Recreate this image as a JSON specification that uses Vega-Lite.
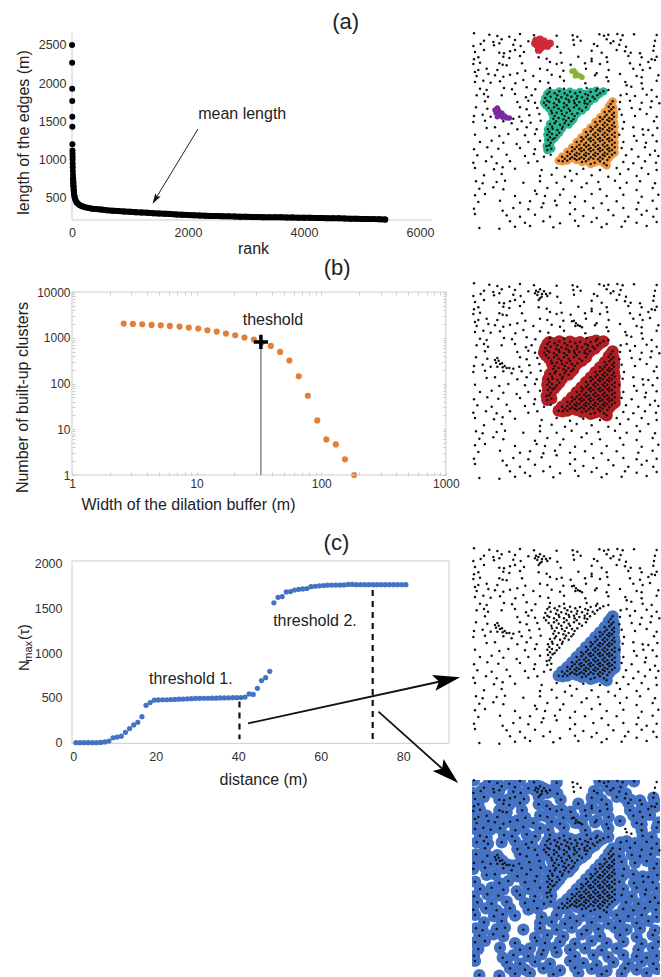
{"$schema":"https://vega.github.io/schema/vega-lite/v6.json","background":"white","autosize":{"type":"none"},"padding":{"left":72,"top":33,"right":589,"bottom":944},
"config":{"font":"Liberation Sans","view":{"stroke":null},"axis":{"grid":false,"ticks":false,"domain":false,"format":"d","labelFlush":false,"labelFont":"Liberation Sans","titleFont":"Liberation Sans","labelFontSize":12.5,"labelColor":"#333","titleColor":"#222","titleFontSize":16,"titleFontWeight":"normal","labelOverlap":false,"labelBound":false}},
"datasets":{
"edges":[{"r":1,"v":2500},{"r":2,"v":2268},{"r":3,"v":1928},{"r":4,"v":1767},{"r":5,"v":1562},{"r":6,"v":1431},{"r":7,"v":1200},{"r":8,"v":1120},{"r":9,"v":1080},{"r":10,"v":1040},{"r":11,"v":1000},{"r":12,"v":950},{"r":13,"v":900},{"r":15,"v":850},{"r":17,"v":800},{"r":19,"v":750},{"r":22,"v":700},{"r":25,"v":650},{"r":30,"v":600},{"r":36,"v":550},{"r":45,"v":510},{"r":60,"v":470},{"r":80,"v":440},{"r":100,"v":425},{"r":130,"v":405},{"r":170,"v":390},{"r":220,"v":378},{"r":280,"v":368},{"r":350,"v":358},{"r":420,"v":352},{"r":500,"v":346},{"r":600,"v":338},{"r":700,"v":332},{"r":800,"v":326},{"r":900,"v":321},{"r":1000,"v":316},{"r":1100,"v":311},{"r":1200,"v":307},{"r":1300,"v":303},{"r":1400,"v":299},{"r":1500,"v":295},{"r":1600,"v":291},{"r":1700,"v":287},{"r":1800,"v":283},{"r":1900,"v":279},{"r":2000,"v":275},{"r":2100,"v":272},{"r":2200,"v":269},{"r":2300,"v":266},{"r":2400,"v":263},{"r":2500,"v":261},{"r":2600,"v":259},{"r":2700,"v":257},{"r":2800,"v":255},{"r":2900,"v":253},{"r":3000,"v":252},{"r":3100,"v":250},{"r":3200,"v":249},{"r":3300,"v":247},{"r":3400,"v":246},{"r":3500,"v":245},{"r":3600,"v":244},{"r":3700,"v":243},{"r":3800,"v":241},{"r":3900,"v":240},{"r":4000,"v":239},{"r":4100,"v":238},{"r":4200,"v":236},{"r":4300,"v":235},{"r":4400,"v":234},{"r":4500,"v":232},{"r":4600,"v":231},{"r":4700,"v":229},{"r":4800,"v":227},{"r":4900,"v":226},{"r":5000,"v":224},{"r":5100,"v":223},{"r":5200,"v":221},{"r":5300,"v":220},{"r":5400,"v":216}],
"clusters":[{"w":2.6,"n":2037},{"w":3.08,"n":2004},{"w":3.66,"n":1971},{"w":4.35,"n":1906},{"w":5.16,"n":1874},{"w":6.1,"n":1812},{"w":7.3,"n":1752},{"w":8.65,"n":1666},{"w":10.3,"n":1585},{"w":12.2,"n":1458},{"w":14.5,"n":1363},{"w":17.2,"n":1233},{"w":20.4,"n":1134},{"w":24.2,"n":1009},{"w":28.8,"n":912},{"w":33.3,"n":785},{"w":39.4,"n":664},{"w":46.8,"n":491},{"w":55.5,"n":317},{"w":66,"n":144},{"w":78,"n":54},{"w":93,"n":15.6},{"w":110,"n":6},{"w":131,"n":4.67},{"w":155,"n":2.2},{"w":184,"n":1}],
"nmax":[{"d":0.65,"n":0},{"d":1.65,"n":0},{"d":2.65,"n":0},{"d":3.65,"n":0},{"d":4.65,"n":0},{"d":5.65,"n":0},{"d":6.65,"n":3},{"d":7.65,"n":8},{"d":8.65,"n":18},{"d":9.65,"n":55},{"d":10.65,"n":62},{"d":11.65,"n":72},{"d":12.65,"n":115},{"d":13.65,"n":157},{"d":14.65,"n":198},{"d":15.65,"n":228},{"d":16.65,"n":291},{"d":17.65,"n":418},{"d":18.65,"n":448},{"d":19.65,"n":475},{"d":20.65,"n":478},{"d":21.65,"n":480},{"d":22.65,"n":480},{"d":23.65,"n":482},{"d":24.65,"n":484},{"d":25.65,"n":486},{"d":26.65,"n":488},{"d":27.65,"n":490},{"d":28.65,"n":492},{"d":29.65,"n":495},{"d":30.65,"n":496},{"d":31.65,"n":497},{"d":32.65,"n":497},{"d":33.65,"n":498},{"d":34.65,"n":498},{"d":35.65,"n":500},{"d":36.65,"n":500},{"d":37.65,"n":502},{"d":38.65,"n":503},{"d":39.65,"n":503},{"d":40.65,"n":505},{"d":41.65,"n":510},{"d":42.65,"n":545},{"d":43.65,"n":540},{"d":44.65,"n":608},{"d":45.65,"n":694},{"d":46.65,"n":727},{"d":47.65,"n":798},{"d":48.65,"n":1565},{"d":49.65,"n":1626},{"d":50.65,"n":1634},{"d":51.65,"n":1686},{"d":52.65,"n":1690},{"d":53.65,"n":1708},{"d":54.65,"n":1716},{"d":55.65,"n":1720},{"d":56.65,"n":1725},{"d":57.65,"n":1745},{"d":58.65,"n":1750},{"d":59.65,"n":1755},{"d":60.65,"n":1758},{"d":61.65,"n":1762},{"d":62.65,"n":1763},{"d":63.65,"n":1763},{"d":64.65,"n":1763},{"d":65.65,"n":1765},{"d":66.65,"n":1770},{"d":67.65,"n":1770},{"d":68.65,"n":1768},{"d":69.65,"n":1768},{"d":70.65,"n":1768},{"d":71.65,"n":1768},{"d":72.65,"n":1768},{"d":73.65,"n":1768},{"d":74.65,"n":1768},{"d":75.65,"n":1768},{"d":76.65,"n":1768},{"d":77.65,"n":1768},{"d":78.65,"n":1768},{"d":79.65,"n":1768},{"d":80.65,"n":1768}],
"pts":[
{"x":42,"y":40,"g":"b"},{"x":88,"y":44,"g":"b"},{"x":112,"y":48,"g":"b"},{"x":148,"y":50,"g":"b"},{"x":180,"y":42,"g":"b"},{"x":222,"y":46,"g":"b"},{"x":290,"y":47,"g":"b"},{"x":338,"y":46,"g":"i"},{"x":352,"y":50,"g":"i"},{"x":418,"y":43,"g":"b"},{"x":432,"y":47,"g":"b"},{"x":445,"y":44,"g":"b"},{"x":472,"y":42,"g":"b"},{"x":488,"y":46,"g":"b"},{"x":522,"y":43,"g":"b"},{"x":590,"y":45,"g":"i"},
{"x":72,"y":62,"g":"b"},{"x":100,"y":66,"g":"b"},{"x":125,"y":58,"g":"b"},{"x":165,"y":60,"g":"b"},{"x":205,"y":64,"g":"b"},{"x":340,"y":60,"g":"i"},{"x":362,"y":62,"g":"i"},{"x":440,"y":58,"g":"b"},{"x":460,"y":64,"g":"b"},{"x":482,"y":60,"g":"b"},{"x":585,"y":62,"g":"i"},
{"x":40,"y":78,"g":"b"},{"x":62,"y":72,"g":"b"},{"x":102,"y":76,"g":"b"},{"x":118,"y":70,"g":"b"},{"x":160,"y":74,"g":"b"},{"x":182,"y":78,"g":"b"},{"x":292,"y":80,"g":"b"},{"x":342,"y":74,"g":"i"},{"x":402,"y":72,"g":"b"},{"x":412,"y":78,"g":"b"},{"x":452,"y":70,"g":"b"},{"x":478,"y":74,"g":"b"},{"x":498,"y":80,"g":"b"},{"x":582,"y":78,"g":"i"},
{"x":45,"y":96,"g":"b"},{"x":72,"y":90,"g":"b"},{"x":118,"y":98,"g":"b"},{"x":132,"y":100,"g":"b"},{"x":150,"y":94,"g":"b"},{"x":165,"y":90,"g":"b"},{"x":192,"y":96,"g":"b"},{"x":302,"y":98,"g":"b"},{"x":395,"y":92,"g":"b"},{"x":425,"y":98,"g":"b"},{"x":470,"y":90,"g":"b"},{"x":495,"y":94,"g":"b"},{"x":512,"y":98,"g":"b"},{"x":540,"y":100,"g":"b"},{"x":580,"y":92,"g":"b"},
{"x":55,"y":112,"g":"b"},{"x":42,"y":118,"g":"b"},{"x":130,"y":110,"g":"b"},{"x":148,"y":114,"g":"b"},{"x":180,"y":108,"g":"b"},{"x":236,"y":112,"g":"b"},{"x":260,"y":116,"g":"b"},{"x":355,"y":110,"g":"b"},{"x":395,"y":116,"g":"b"},{"x":440,"y":112,"g":"b"},{"x":505,"y":108,"g":"b"},{"x":545,"y":112,"g":"b"},{"x":575,"y":118,"g":"b"},{"x":590,"y":110,"g":"b"},
{"x":40,"y":132,"g":"b"},{"x":60,"y":128,"g":"b"},{"x":118,"y":130,"g":"b"},{"x":128,"y":134,"g":"b"},{"x":140,"y":136,"g":"b"},{"x":186,"y":130,"g":"b"},{"x":270,"y":126,"g":"b"},{"x":290,"y":132,"g":"b"},{"x":305,"y":128,"g":"b"},{"x":332,"y":134,"g":"b"},{"x":375,"y":130,"g":"b"},{"x":395,"y":124,"g":"b"},{"x":420,"y":132,"g":"b"},{"x":442,"y":126,"g":"b"},{"x":510,"y":130,"g":"b"},{"x":540,"y":134,"g":"b"},{"x":565,"y":126,"g":"b"},{"x":585,"y":120,"g":"b"},
{"x":55,"y":150,"g":"b"},{"x":45,"y":156,"g":"b"},{"x":80,"y":146,"g":"b"},{"x":112,"y":150,"g":"b"},{"x":196,"y":152,"g":"b"},{"x":240,"y":146,"g":"b"},{"x":262,"y":150,"g":"b"},{"x":310,"y":152,"g":"b"},{"x":378,"y":146,"g":"b"},{"x":410,"y":160,"g":"b"},{"x":446,"y":150,"g":"b"},{"x":520,"y":146,"g":"b"},{"x":548,"y":150,"g":"b"},{"x":570,"y":144,"g":"b"},
{"x":50,"y":168,"g":"b"},{"x":85,"y":162,"g":"b"},{"x":105,"y":166,"g":"b"},{"x":130,"y":170,"g":"b"},{"x":150,"y":164,"g":"b"},{"x":172,"y":160,"g":"b"},{"x":220,"y":168,"g":"b"},{"x":275,"y":164,"g":"b"},{"x":300,"y":170,"g":"b"},{"x":405,"y":166,"g":"b"},{"x":440,"y":172,"g":"b"},{"x":480,"y":162,"g":"b"},{"x":530,"y":168,"g":"b"},{"x":545,"y":172,"g":"b"},{"x":595,"y":166,"g":"b"},
{"x":45,"y":186,"g":"b"},{"x":70,"y":182,"g":"b"},{"x":92,"y":188,"g":"b"},{"x":120,"y":184,"g":"b"},{"x":166,"y":190,"g":"b"},{"x":190,"y":180,"g":"b"},{"x":240,"y":184,"g":"b"},{"x":265,"y":188,"g":"b"},{"x":312,"y":182,"g":"b"},{"x":376,"y":190,"g":"b"},{"x":445,"y":184,"g":"b"},{"x":496,"y":186,"g":"i"},{"x":500,"y":196,"g":"i"},{"x":545,"y":190,"g":"b"},{"x":590,"y":182,"g":"b"},
{"x":60,"y":206,"g":"b"},{"x":80,"y":210,"g":"b"},{"x":132,"y":204,"g":"b"},{"x":156,"y":208,"g":"b"},{"x":200,"y":202,"g":"b"},{"x":226,"y":208,"g":"b"},{"x":270,"y":204,"g":"b"},{"x":312,"y":206,"g":"b"},{"x":380,"y":204,"g":"b"},{"x":412,"y":206,"g":"b"},{"x":445,"y":210,"g":"b"},{"x":514,"y":200,"g":"i"},{"x":548,"y":206,"g":"b"},{"x":575,"y":210,"g":"b"},
{"x":50,"y":226,"g":"b"},{"x":72,"y":222,"g":"b"},{"x":84,"y":230,"g":"b"},{"x":125,"y":226,"g":"b"},{"x":165,"y":222,"g":"b"},{"x":198,"y":232,"g":"b"},{"x":215,"y":226,"g":"b"},{"x":482,"y":226,"g":"b"},{"x":500,"y":222,"g":"b"},{"x":525,"y":228,"g":"b"},{"x":560,"y":224,"g":"b"},{"x":590,"y":230,"g":"b"},
{"x":75,"y":244,"g":"b"},{"x":48,"y":262,"g":"b"},{"x":172,"y":246,"g":"b"},{"x":205,"y":242,"g":"b"},{"x":225,"y":248,"g":"b"},{"x":480,"y":246,"g":"b"},{"x":510,"y":242,"g":"b"},{"x":545,"y":248,"g":"b"},{"x":575,"y":244,"g":"b"},{"x":598,"y":250,"g":"b"},
{"x":82,"y":266,"g":"b"},{"x":180,"y":262,"g":"b"},{"x":200,"y":268,"g":"b"},{"x":232,"y":264,"g":"b"},{"x":478,"y":268,"g":"b"},{"x":515,"y":264,"g":"b"},{"x":540,"y":268,"g":"b"},{"x":572,"y":262,"g":"b"},
{"x":42,"y":288,"g":"b"},{"x":68,"y":284,"g":"b"},{"x":92,"y":290,"g":"b"},{"x":160,"y":296,"g":"b"},{"x":178,"y":290,"g":"b"},{"x":208,"y":286,"g":"b"},{"x":238,"y":282,"g":"b"},{"x":485,"y":284,"g":"b"},{"x":525,"y":288,"g":"b"},{"x":560,"y":282,"g":"b"},{"x":590,"y":290,"g":"b"},
{"x":40,"y":306,"g":"b"},{"x":75,"y":302,"g":"b"},{"x":105,"y":322,"g":"b"},{"x":130,"y":304,"g":"b"},{"x":155,"y":310,"g":"b"},{"x":185,"y":304,"g":"b"},{"x":212,"y":308,"g":"b"},{"x":242,"y":302,"g":"b"},{"x":492,"y":306,"g":"b"},{"x":520,"y":322,"g":"b"},{"x":548,"y":328,"g":"b"},{"x":582,"y":304,"g":"b"},
{"x":80,"y":324,"g":"b"},{"x":172,"y":328,"g":"b"},{"x":200,"y":322,"g":"b"},{"x":230,"y":328,"g":"b"},{"x":488,"y":326,"g":"b"},{"x":565,"y":330,"g":"b"},{"x":592,"y":324,"g":"b"},
{"x":45,"y":344,"g":"b"},{"x":118,"y":348,"g":"b"},{"x":145,"y":342,"g":"b"},{"x":195,"y":346,"g":"b"},{"x":225,"y":342,"g":"b"},{"x":478,"y":344,"g":"b"},{"x":522,"y":348,"g":"b"},{"x":550,"y":344,"g":"b"},{"x":578,"y":346,"g":"b"},
{"x":60,"y":366,"g":"b"},{"x":95,"y":362,"g":"b"},{"x":130,"y":368,"g":"b"},{"x":170,"y":372,"g":"b"},{"x":205,"y":366,"g":"b"},{"x":240,"y":362,"g":"b"},{"x":490,"y":366,"g":"b"},{"x":530,"y":362,"g":"b"},{"x":558,"y":368,"g":"b"},{"x":590,"y":364,"g":"b"},
{"x":42,"y":388,"g":"b"},{"x":82,"y":382,"g":"b"},{"x":115,"y":386,"g":"b"},{"x":180,"y":384,"g":"b"},{"x":225,"y":388,"g":"b"},{"x":485,"y":384,"g":"b"},{"x":515,"y":388,"g":"b"},{"x":555,"y":382,"g":"b"},{"x":585,"y":392,"g":"b"},
{"x":52,"y":406,"g":"b"},{"x":95,"y":410,"g":"b"},{"x":140,"y":404,"g":"b"},{"x":195,"y":408,"g":"b"},{"x":222,"y":402,"g":"b"},{"x":252,"y":410,"g":"b"},{"x":272,"y":404,"g":"b"},{"x":498,"y":406,"g":"b"},{"x":535,"y":410,"g":"b"},{"x":570,"y":404,"g":"b"},{"x":595,"y":408,"g":"b"},
{"x":40,"y":428,"g":"b"},{"x":78,"y":424,"g":"b"},{"x":110,"y":430,"g":"b"},{"x":150,"y":424,"g":"b"},{"x":205,"y":428,"g":"b"},{"x":232,"y":424,"g":"b"},{"x":490,"y":426,"g":"b"},{"x":520,"y":430,"g":"b"},{"x":555,"y":424,"g":"b"},{"x":588,"y":428,"g":"b"},
{"x":45,"y":444,"g":"b"},{"x":102,"y":448,"g":"b"},{"x":128,"y":442,"g":"b"},{"x":165,"y":446,"g":"b"},{"x":245,"y":450,"g":"b"},{"x":290,"y":444,"g":"b"},{"x":330,"y":452,"g":"b"},{"x":370,"y":446,"g":"b"},{"x":420,"y":450,"g":"b"},{"x":470,"y":444,"g":"b"},{"x":505,"y":448,"g":"b"},{"x":545,"y":444,"g":"b"},{"x":590,"y":450,"g":"b"},
{"x":72,"y":466,"g":"b"},{"x":125,"y":462,"g":"b"},{"x":240,"y":468,"g":"b"},{"x":275,"y":464,"g":"b"},{"x":315,"y":470,"g":"b"},{"x":350,"y":462,"g":"b"},{"x":395,"y":466,"g":"b"},{"x":445,"y":470,"g":"b"},{"x":480,"y":462,"g":"b"},{"x":530,"y":468,"g":"b"},{"x":565,"y":462,"g":"b"},
{"x":48,"y":484,"g":"b"},{"x":68,"y":490,"g":"b"},{"x":110,"y":486,"g":"b"},{"x":135,"y":482,"g":"b"},{"x":190,"y":488,"g":"b"},{"x":240,"y":484,"g":"b"},{"x":290,"y":488,"g":"b"},{"x":335,"y":482,"g":"b"},{"x":380,"y":490,"g":"b"},{"x":415,"y":486,"g":"b"},{"x":465,"y":482,"g":"b"},{"x":500,"y":488,"g":"b"},{"x":540,"y":484,"g":"b"},{"x":585,"y":490,"g":"b"},
{"x":58,"y":506,"g":"b"},{"x":100,"y":502,"g":"b"},{"x":130,"y":508,"g":"b"},{"x":225,"y":512,"g":"b"},{"x":262,"y":504,"g":"b"},{"x":310,"y":508,"g":"b"},{"x":365,"y":502,"g":"b"},{"x":420,"y":508,"g":"b"},{"x":480,"y":504,"g":"b"},{"x":530,"y":510,"g":"b"},{"x":578,"y":504,"g":"b"},
{"x":45,"y":526,"g":"b"},{"x":75,"y":522,"g":"b"},{"x":165,"y":528,"g":"b"},{"x":230,"y":522,"g":"b"},{"x":255,"y":528,"g":"b"},{"x":300,"y":524,"g":"b"},{"x":345,"y":530,"g":"b"},{"x":395,"y":522,"g":"b"},{"x":440,"y":528,"g":"b"},{"x":490,"y":524,"g":"b"},{"x":545,"y":530,"g":"b"},{"x":595,"y":524,"g":"b"},
{"x":55,"y":546,"g":"b"},{"x":120,"y":542,"g":"b"},{"x":180,"y":548,"g":"b"},{"x":210,"y":544,"g":"b"},{"x":250,"y":550,"g":"b"},{"x":285,"y":542,"g":"b"},{"x":330,"y":548,"g":"b"},{"x":375,"y":544,"g":"b"},{"x":425,"y":550,"g":"b"},{"x":470,"y":544,"g":"b"},{"x":535,"y":548,"g":"b"},{"x":578,"y":542,"g":"b"},
{"x":42,"y":566,"g":"b"},{"x":128,"y":572,"g":"b"},{"x":160,"y":564,"g":"b"},{"x":205,"y":568,"g":"b"},{"x":245,"y":562,"g":"b"},{"x":290,"y":556,"g":"b"},{"x":345,"y":568,"g":"b"},{"x":400,"y":564,"g":"b"},{"x":445,"y":570,"g":"b"},{"x":490,"y":564,"g":"b"},{"x":530,"y":568,"g":"b"},{"x":560,"y":572,"g":"b"},{"x":590,"y":566,"g":"b"},
{"x":45,"y":582,"g":"b"},{"x":140,"y":586,"g":"b"},{"x":180,"y":590,"g":"b"},{"x":225,"y":584,"g":"b"},{"x":270,"y":590,"g":"b"},{"x":330,"y":582,"g":"b"},{"x":370,"y":588,"g":"b"},{"x":410,"y":594,"g":"b"},{"x":460,"y":586,"g":"b"},{"x":505,"y":590,"g":"b"},{"x":545,"y":584,"g":"b"},{"x":580,"y":590,"g":"b"},
{"x":150,"y":604,"g":"b"},{"x":195,"y":608,"g":"b"},{"x":250,"y":604,"g":"b"},{"x":300,"y":610,"g":"b"},{"x":345,"y":602,"g":"b"},{"x":395,"y":606,"g":"b"},{"x":440,"y":612,"g":"b"},{"x":495,"y":604,"g":"b"},{"x":530,"y":608,"g":"b"},{"x":560,"y":618,"g":"b"},{"x":590,"y":606,"g":"b"},
{"x":58,"y":624,"g":"b"},{"x":118,"y":626,"g":"b"},{"x":165,"y":620,"g":"b"},{"x":210,"y":618,"g":"b"},{"x":280,"y":622,"g":"b"},{"x":355,"y":618,"g":"b"},{"x":425,"y":622,"g":"b"},{"x":485,"y":620,"g":"b"},
{"x":228,"y":62,"g":"r"},{"x":240,"y":58,"g":"r"},{"x":232,"y":75,"g":"r"},{"x":246,"y":72,"g":"r"},{"x":240,"y":85,"g":"r"},{"x":258,"y":72,"g":"r"},{"x":270,"y":70,"g":"r"},{"x":225,"y":70,"g":"r"},{"x":235,"y":66,"g":"r"},{"x":252,"y":64,"g":"r"},{"x":262,"y":78,"g":"r"},{"x":245,"y":80,"g":"r"},{"x":236,"y":90,"g":"r"},
{"x":336,"y":154,"g":"y"},{"x":348,"y":160,"g":"y"},{"x":360,"y":168,"g":"y"},{"x":342,"y":152,"g":"y"},{"x":354,"y":166,"g":"y"},{"x":346,"y":168,"g":"y"},{"x":366,"y":172,"g":"y"},
{"x":112,"y":264,"g":"p"},{"x":108,"y":278,"g":"p"},{"x":120,"y":282,"g":"p"},{"x":134,"y":288,"g":"p"},{"x":148,"y":294,"g":"p"},{"x":105,"y":270,"g":"p"},{"x":116,"y":272,"g":"p"},{"x":126,"y":280,"g":"p"},{"x":112,"y":290,"g":"p"},{"x":128,"y":292,"g":"p"},{"x":140,"y":294,"g":"p"},
{"x":268,"y":216,"g":"g"},{"x":284,"y":220,"g":"g"},{"x":298,"y":214,"g":"g"},{"x":314,"y":220,"g":"g"},{"x":330,"y":215,"g":"g"},{"x":346,"y":220,"g":"g"},{"x":360,"y":216,"g":"g"},{"x":376,"y":222,"g":"g"},{"x":392,"y":216,"g":"g"},{"x":408,"y":212,"g":"g"},{"x":430,"y":214,"g":"g"},
{"x":256,"y":234,"g":"g"},{"x":272,"y":230,"g":"g"},{"x":288,"y":236,"g":"g"},{"x":304,"y":232,"g":"g"},{"x":318,"y":236,"g":"g"},{"x":334,"y":230,"g":"g"},{"x":350,"y":236,"g":"g"},{"x":366,"y":232,"g":"g"},{"x":382,"y":236,"g":"g"},{"x":398,"y":230,"g":"g"},{"x":412,"y":226,"g":"g"},
{"x":252,"y":248,"g":"g"},{"x":268,"y":246,"g":"g"},{"x":282,"y":250,"g":"g"},{"x":298,"y":246,"g":"g"},{"x":312,"y":250,"g":"g"},{"x":328,"y":246,"g":"g"},{"x":344,"y":250,"g":"g"},{"x":358,"y":246,"g":"g"},{"x":374,"y":250,"g":"g"},{"x":390,"y":244,"g":"g"},
{"x":266,"y":264,"g":"g"},{"x":282,"y":262,"g":"g"},{"x":296,"y":266,"g":"g"},{"x":312,"y":262,"g":"g"},{"x":326,"y":266,"g":"g"},{"x":342,"y":262,"g":"g"},{"x":358,"y":266,"g":"g"},{"x":378,"y":262,"g":"g"},
{"x":276,"y":280,"g":"g"},{"x":290,"y":278,"g":"g"},{"x":306,"y":282,"g":"g"},{"x":320,"y":278,"g":"g"},{"x":336,"y":282,"g":"g"},{"x":352,"y":280,"g":"g"},
{"x":280,"y":296,"g":"g"},{"x":296,"y":294,"g":"g"},{"x":310,"y":298,"g":"g"},{"x":326,"y":294,"g":"g"},{"x":340,"y":298,"g":"g"},
{"x":270,"y":312,"g":"g"},{"x":284,"y":310,"g":"g"},{"x":300,"y":314,"g":"g"},{"x":314,"y":310,"g":"g"},{"x":326,"y":314,"g":"g"},
{"x":264,"y":328,"g":"g"},{"x":278,"y":326,"g":"g"},{"x":292,"y":330,"g":"g"},{"x":306,"y":326,"g":"g"},
{"x":262,"y":344,"g":"g"},{"x":276,"y":342,"g":"g"},{"x":290,"y":346,"g":"g"},
{"x":264,"y":360,"g":"g"},{"x":278,"y":358,"g":"g"},
{"x":268,"y":376,"g":"g"},{"x":262,"y":390,"g":"g"},
{"x":262,"y":222,"g":"g"},{"x":292,"y":226,"g":"g"},{"x":322,"y":226,"g":"g"},{"x":352,"y":228,"g":"g"},{"x":384,"y":226,"g":"g"},{"x":420,"y":220,"g":"g"},{"x":262,"y":242,"g":"g"},{"x":296,"y":240,"g":"g"},{"x":326,"y":240,"g":"g"},{"x":342,"y":242,"g":"g"},{"x":374,"y":242,"g":"g"},{"x":404,"y":236,"g":"g"},{"x":258,"y":256,"g":"g"},{"x":290,"y":256,"g":"g"},{"x":320,"y":256,"g":"g"},{"x":350,"y":256,"g":"g"},{"x":382,"y":252,"g":"g"},{"x":274,"y":272,"g":"g"},{"x":304,"y":272,"g":"g"},{"x":330,"y":272,"g":"g"},{"x":366,"y":272,"g":"g"},{"x":284,"y":288,"g":"g"},{"x":314,"y":288,"g":"g"},{"x":344,"y":288,"g":"g"},{"x":288,"y":304,"g":"g"},{"x":318,"y":302,"g":"g"},{"x":334,"y":304,"g":"g"},{"x":276,"y":320,"g":"g"},{"x":308,"y":320,"g":"g"},{"x":268,"y":336,"g":"g"},{"x":298,"y":338,"g":"g"},{"x":270,"y":352,"g":"g"},{"x":284,"y":354,"g":"g"},{"x":272,"y":368,"g":"g"},{"x":260,"y":378,"g":"g"},{"x":274,"y":386,"g":"g"},
{"x":458,"y":244,"g":"o"},{"x":446,"y":260,"g":"o"},{"x":460,"y":262,"g":"o"},{"x":434,"y":276,"g":"o"},{"x":448,"y":274,"g":"o"},{"x":462,"y":278,"g":"o"},
{"x":420,"y":292,"g":"o"},{"x":434,"y":290,"g":"o"},{"x":448,"y":294,"g":"o"},{"x":462,"y":290,"g":"o"},
{"x":406,"y":306,"g":"o"},{"x":420,"y":304,"g":"o"},{"x":434,"y":308,"g":"o"},{"x":448,"y":304,"g":"o"},{"x":462,"y":308,"g":"o"},
{"x":392,"y":322,"g":"o"},{"x":406,"y":320,"g":"o"},{"x":420,"y":324,"g":"o"},{"x":434,"y":320,"g":"o"},{"x":448,"y":324,"g":"o"},{"x":464,"y":320,"g":"o"},
{"x":378,"y":336,"g":"o"},{"x":392,"y":334,"g":"o"},{"x":406,"y":338,"g":"o"},{"x":420,"y":334,"g":"o"},{"x":434,"y":338,"g":"o"},{"x":448,"y":334,"g":"o"},{"x":464,"y":338,"g":"o"},
{"x":364,"y":352,"g":"o"},{"x":378,"y":350,"g":"o"},{"x":392,"y":354,"g":"o"},{"x":406,"y":350,"g":"o"},{"x":420,"y":354,"g":"o"},{"x":434,"y":350,"g":"o"},{"x":448,"y":354,"g":"o"},{"x":464,"y":350,"g":"o"},
{"x":350,"y":366,"g":"o"},{"x":364,"y":364,"g":"o"},{"x":378,"y":368,"g":"o"},{"x":392,"y":364,"g":"o"},{"x":406,"y":368,"g":"o"},{"x":420,"y":364,"g":"o"},{"x":434,"y":368,"g":"o"},{"x":448,"y":364,"g":"o"},{"x":464,"y":368,"g":"o"},
{"x":336,"y":382,"g":"o"},{"x":350,"y":380,"g":"o"},{"x":364,"y":384,"g":"o"},{"x":378,"y":380,"g":"o"},{"x":392,"y":384,"g":"o"},{"x":406,"y":380,"g":"o"},{"x":420,"y":384,"g":"o"},{"x":434,"y":380,"g":"o"},{"x":448,"y":384,"g":"o"},{"x":464,"y":382,"g":"o"},
{"x":322,"y":396,"g":"o"},{"x":336,"y":394,"g":"o"},{"x":350,"y":398,"g":"o"},{"x":364,"y":394,"g":"o"},{"x":378,"y":398,"g":"o"},{"x":392,"y":394,"g":"o"},{"x":406,"y":398,"g":"o"},{"x":420,"y":394,"g":"o"},{"x":434,"y":398,"g":"o"},{"x":448,"y":394,"g":"o"},{"x":464,"y":398,"g":"o"},
{"x":306,"y":410,"g":"o"},{"x":322,"y":408,"g":"o"},{"x":336,"y":412,"g":"o"},{"x":350,"y":408,"g":"o"},{"x":364,"y":412,"g":"o"},{"x":378,"y":408,"g":"o"},{"x":392,"y":412,"g":"o"},{"x":406,"y":408,"g":"o"},{"x":420,"y":412,"g":"o"},{"x":434,"y":408,"g":"o"},{"x":448,"y":412,"g":"o"},
{"x":296,"y":422,"g":"o"},{"x":322,"y":422,"g":"o"},{"x":350,"y":420,"g":"o"},{"x":378,"y":424,"g":"o"},{"x":392,"y":432,"g":"o"},{"x":420,"y":424,"g":"o"},{"x":440,"y":436,"g":"o"},
{"x":452,"y":252,"g":"o"},{"x":454,"y":268,"g":"o"},{"x":440,"y":284,"g":"o"},{"x":456,"y":284,"g":"o"},{"x":428,"y":298,"g":"o"},{"x":442,"y":300,"g":"o"},{"x":456,"y":298,"g":"o"},{"x":412,"y":314,"g":"o"},{"x":428,"y":314,"g":"o"},{"x":442,"y":314,"g":"o"},{"x":456,"y":316,"g":"o"},{"x":398,"y":328,"g":"o"},{"x":414,"y":330,"g":"o"},{"x":428,"y":328,"g":"o"},{"x":442,"y":330,"g":"o"},{"x":456,"y":328,"g":"o"},{"x":384,"y":344,"g":"o"},{"x":400,"y":344,"g":"o"},{"x":414,"y":344,"g":"o"},{"x":428,"y":344,"g":"o"},{"x":442,"y":344,"g":"o"},{"x":456,"y":344,"g":"o"},{"x":370,"y":358,"g":"o"},{"x":386,"y":358,"g":"o"},{"x":400,"y":360,"g":"o"},{"x":414,"y":358,"g":"o"},{"x":428,"y":360,"g":"o"},{"x":442,"y":358,"g":"o"},{"x":456,"y":360,"g":"o"},{"x":358,"y":374,"g":"o"},{"x":372,"y":374,"g":"o"},{"x":386,"y":376,"g":"o"},{"x":400,"y":374,"g":"o"},{"x":414,"y":376,"g":"o"},{"x":428,"y":374,"g":"o"},{"x":442,"y":376,"g":"o"},{"x":456,"y":374,"g":"o"},{"x":344,"y":388,"g":"o"},{"x":358,"y":388,"g":"o"},{"x":372,"y":390,"g":"o"},{"x":386,"y":388,"g":"o"},{"x":400,"y":390,"g":"o"},{"x":414,"y":388,"g":"o"},{"x":428,"y":390,"g":"o"},{"x":442,"y":388,"g":"o"},{"x":456,"y":390,"g":"o"},{"x":330,"y":402,"g":"o"},{"x":344,"y":404,"g":"o"},{"x":358,"y":402,"g":"o"},{"x":372,"y":404,"g":"o"},{"x":386,"y":402,"g":"o"},{"x":400,"y":404,"g":"o"},{"x":414,"y":402,"g":"o"},{"x":428,"y":404,"g":"o"},{"x":442,"y":402,"g":"o"},{"x":456,"y":404,"g":"o"},{"x":314,"y":416,"g":"o"},{"x":330,"y":416,"g":"o"},{"x":344,"y":416,"g":"o"},{"x":358,"y":416,"g":"o"},{"x":372,"y":416,"g":"o"},{"x":386,"y":418,"g":"o"},{"x":400,"y":416,"g":"o"},{"x":414,"y":418,"g":"o"},{"x":428,"y":416,"g":"o"},{"x":442,"y":420,"g":"o"},{"x":308,"y":424,"g":"o"},{"x":366,"y":426,"g":"o"},{"x":404,"y":428,"g":"o"},{"x":432,"y":430,"g":"o"}
]},
"columns":2,"bounds":"flush","align":"each","spacing":{"row":0,"column":23},
"concat":[
{"width":377,"height":250,"layer":[
{"data":{"values":[{"r":0,"v":209},{"r":6207,"v":209}]},"mark":{"type":"line","color":"#ccc","strokeWidth":1},"encoding":{"x":{"field":"r","type":"quantitative","scale":{"domain":[0,6500],"nice":false},"axis":{"values":[0,2000,4000,6000],"title":"rank","offset":-63,"titleX":181,"titleY":28,"titleBaseline":"middle","titleAlign":"center","labelPadding":6,"encoding":{"labels":{"update":{"dx":{"signal":"datum.value==2000?-10:(datum.value==4000?-4:0)"}}}}}},"y":{"field":"v","type":"quantitative","scale":{"domain":[-615,2657],"nice":false,"zero":false},"axis":{"values":[500,1000,1500,2000,2500],"title":"length of the edges (m)","titleX":-49,"titleY":99,"titleBaseline":"middle","titleAlign":"center","labelPadding":6}}}},
{"data":{"values":[{"r":0,"v":209},{"r":0,"v":2657}]},"mark":{"type":"line","color":"#ccc","strokeWidth":1},"encoding":{"x":{"field":"r","type":"quantitative"},"y":{"field":"v","type":"quantitative"}}},
{"data":{"name":"edges"},"mark":{"type":"circle","color":"black","size":36,"opacity":1},"encoding":{"x":{"field":"r","type":"quantitative"},"y":{"field":"v","type":"quantitative"}}},
{"data":{"name":"edges"},"transform":[{"filter":"datum.r>=19"}],"mark":{"type":"line","color":"black","strokeWidth":6,"strokeCap":"round"},"encoding":{"x":{"field":"r","type":"quantitative"},"y":{"field":"v","type":"quantitative"}}},
{"data":{"values":[{"r":2172,"v":1400},{"r":1436,"v":481}]},"mark":{"type":"line","color":"#222","strokeWidth":1},"encoding":{"x":{"field":"r","type":"quantitative"},"y":{"field":"v","type":"quantitative"}}},
{"data":{"values":[{"r":1436,"v":481}]},"mark":{"type":"point","shape":"M0,-1L0.6,1L0,0.6L-0.6,1Z","filled":true,"color":"#111","size":110,"angle":211,"opacity":1},"encoding":{"x":{"field":"r","type":"quantitative"},"y":{"field":"v","type":"quantitative"}}},
{"data":{"values":[{"t":"mean length","r":2935,"v":1597}]},"mark":{"type":"text","fontSize":16,"color":"#222","align":"center","baseline":"middle"},"encoding":{"x":{"field":"r","type":"quantitative"},"y":{"field":"v","type":"quantitative"},"text":{"field":"t"}}},
{"data":{"values":[{"t":"(a)","r":4718,"v":2801}]},"mark":{"type":"text","fontSize":22,"color":"#222","align":"center","baseline":"middle"},"encoding":{"x":{"field":"r","type":"quantitative"},"y":{"field":"v","type":"quantitative"},"text":{"field":"t"}}}
]},
{"width":188,"height":250,"data":{"name":"pts"},"encoding":{"x":{"field":"x","type":"quantitative","scale":{"domain":[36,600],"nice":false,"zero":false},"axis":null},"y":{"field":"y","type":"quantitative","scale":{"domain":[789,39],"nice":false,"zero":false},"axis":null}},"layer":[
{"transform":[{"filter":"datum.g=='g'"}],"mark":{"type":"circle","color":"#2BB58F","size":70,"opacity":1,"clip":true}},
{"transform":[{"filter":"datum.g=='o'"}],"mark":{"type":"circle","color":"#EE9A45","size":70,"opacity":1,"clip":true}},
{"transform":[{"filter":"datum.g=='r'"}],"mark":{"type":"circle","color":"#CE2A3A","size":60,"opacity":1,"clip":true}},
{"transform":[{"filter":"datum.g=='y'"}],"mark":{"type":"circle","color":"#8DB03C","size":30,"opacity":1,"clip":true}},
{"transform":[{"filter":"datum.g=='p'"}],"mark":{"type":"circle","color":"#7A2AA0","size":30,"opacity":1,"clip":true}},
{"transform":[{"filter":"datum.g!='r'&&datum.g!='y'&&datum.g!='p'"}],"mark":{"type":"circle","color":"#111","size":6,"opacity":1}}
]},
{"width":377,"height":265,"resolve":{"axis":{"x":"independent","y":"independent"}},"layer":[
{"data":{"name":"clusters"},"mark":{"type":"circle","color":"#E2803A","size":38,"opacity":1},"encoding":{"x":{"field":"w","type":"quantitative","scale":{"type":"log","domain":[1,1060],"nice":false},"axis":{"values":[1,2,3,4,5,6,7,8,9,10,20,30,40,50,60,70,80,90,100,200,300,400,500,600,700,800,900,1000],"labelExpr":"datum.value==1||datum.value==10||datum.value==100||datum.value==1000?format(datum.value,'d'):''","offset":-73,"ticks":true,"tickSize":-3,"tickColor":"#ccc","labelFontSize":12,"labelPadding":6,"title":"Width of the dilation buffer (m)","titleX":116,"titleY":29,"titleBaseline":"middle","titleAlign":"center"}},"y":{"field":"n","type":"quantitative","scale":{"type":"log","domain":[0.02538,15730],"nice":false},"axis":{"values":[1,2,3,4,5,6,7,8,9,10,20,30,40,50,60,70,80,90,100,200,300,400,500,600,700,800,900,1000,2000,3000,4000,5000,6000,7000,8000,9000,10000],"labelExpr":"datum.value==1||datum.value==10||datum.value==100||datum.value==1000||datum.value==10000?format(datum.value,'d'):''","ticks":true,"tickSize":-3,"tickColor":"#ccc","labelFontSize":12,"labelPadding":5,"title":"Number of built-up clusters","titleX":-50,"titleY":114,"titleBaseline":"middle","titleAlign":"center"}}}},
{"data":{"name":"clusters"},"mark":{"type":"circle","opacity":0},"encoding":{"x":{"field":"w","type":"quantitative","axis":{"orient":"top","offset":-9,"values":[1,2,3,4,5,6,7,8,9,10,20,30,40,50,60,70,80,90,100,200,300,400,500,600,700,800,900,1000],"labels":false,"ticks":true,"tickSize":-3,"tickColor":"#ccc","title":null}},"y":{"field":"n","type":"quantitative","axis":{"orient":"right","offset":-3,"values":[1,2,3,4,5,6,7,8,9,10,20,30,40,50,60,70,80,90,100,200,300,400,500,600,700,800,900,1000,2000,3000,4000,5000,6000,7000,8000,9000,10000],"labels":false,"ticks":true,"tickSize":-3,"tickColor":"#ccc","title":null}}}},
{"data":{"values":[{"w":1,"w2":1000,"n":1,"n2":10000}]},"mark":{"type":"rect","fill":null,"stroke":"#ccc","strokeWidth":1},"encoding":{"x":{"field":"w","type":"quantitative","axis":null},"x2":{"field":"w2"},"y":{"field":"n","type":"quantitative","axis":null},"y2":{"field":"n2"}}},
{"data":{"values":[{"w":32.8,"n":811,"n2":1}]},"mark":{"type":"rule","color":"#333","strokeWidth":0.9},"encoding":{"x":{"field":"w","type":"quantitative","axis":null},"y":{"field":"n","type":"quantitative","axis":null},"y2":{"field":"n2"}}},
{"data":{"values":[{"w":32.8,"n":811}]},"mark":{"type":"point","shape":"M-1,-0.25H-0.25V-1H0.25V-0.25H1V0.25H0.25V1H-0.25V0.25H-1Z","filled":true,"color":"#000","size":200,"opacity":1},"encoding":{"x":{"field":"w","type":"quantitative","axis":null},"y":{"field":"n","type":"quantitative","axis":null}}},
{"data":{"values":[{"t":"theshold","w":41,"n":2400}]},"mark":{"type":"text","fontSize":16,"color":"#222"},"encoding":{"x":{"field":"w","type":"quantitative","axis":null},"y":{"field":"n","type":"quantitative","axis":null},"text":{"field":"t"}}},
{"data":{"values":[{"t":"(b)","w":134,"n":33500}]},"mark":{"type":"text","fontSize":22,"color":"#222"},"encoding":{"x":{"field":"w","type":"quantitative","axis":null},"y":{"field":"n","type":"quantitative","axis":null},"text":{"field":"t"}}}
]},
{"width":188,"height":265,"data":{"name":"pts"},"encoding":{"x":{"field":"x","type":"quantitative","scale":{"domain":[36,600],"nice":false,"zero":false},"axis":null},"y":{"field":"y","type":"quantitative","scale":{"domain":[834,39],"nice":false,"zero":false},"axis":null}},"layer":[
{"transform":[{"filter":"datum.g=='g'||datum.g=='o'"}],"mark":{"type":"circle","color":"#B11F24","size":150,"opacity":1,"clip":true}},
{"mark":{"type":"circle","color":"#111","size":6,"opacity":1}}
]},
{"width":377,"height":232,"layer":[
{"data":{"values":[{"d":-0.3,"d2":91.1,"n":-7.5,"n2":2033}]},"mark":{"type":"rect","fill":null,"stroke":"#ccc","strokeWidth":1},"encoding":{"x":{"field":"d","type":"quantitative","scale":{"domain":[-0.3,91.1],"nice":false,"zero":false},"axis":{"values":[0,20,40,60,80],"offset":-37,"labelPadding":7,"title":"distance (m)","titleX":191,"titleY":36,"titleBaseline":"middle","titleAlign":"center"}},"x2":{"field":"d2"},"y":{"field":"n","type":"quantitative","scale":{"domain":[-418,2178],"nice":false,"zero":false},"axis":{"values":[0,500,1000,1500,2000],"labelPadding":10,"title":null}},"y2":{"field":"n2"}}},
{"data":{"name":"nmax"},"mark":{"type":"circle","color":"#4472C4","size":27,"opacity":1},"encoding":{"x":{"field":"d","type":"quantitative"},"y":{"field":"n","type":"quantitative"}}},
{"data":{"values":[{"d":40.3,"n":459,"n2":37},{"d":72.6,"n":1708,"n2":0}]},"mark":{"type":"rule","color":"#111","strokeWidth":2.2,"strokeDash":[6,5]},"encoding":{"x":{"field":"d","type":"quantitative"},"y":{"field":"n","type":"quantitative"},"y2":{"field":"n2"}}},
{"data":{"values":[{"d":42.4,"n":216},{"d":90.6,"n":701}]},"mark":{"type":"line","color":"#111","strokeWidth":1.8},"encoding":{"x":{"field":"d","type":"quantitative"},"y":{"field":"n","type":"quantitative"}}},
{"data":{"values":[{"d":74,"n":347},{"d":90.9,"n":-351}]},"mark":{"type":"line","color":"#111","strokeWidth":1.8},"encoding":{"x":{"field":"d","type":"quantitative"},"y":{"field":"n","type":"quantitative"}}},
{"data":{"values":[{"d":90.6,"n":701}]},"mark":{"type":"point","shape":"M0,-1L0.6,1L0,0.6L-0.6,1Z","filled":true,"color":"#000","size":729,"angle":78,"opacity":1},"encoding":{"x":{"field":"d","type":"quantitative"},"y":{"field":"n","type":"quantitative"}}},
{"data":{"values":[{"d":90.9,"n":-351}]},"mark":{"type":"point","shape":"M0,-1L0.6,1L0,0.6L-0.6,1Z","filled":true,"color":"#000","size":729,"angle":132,"opacity":1},"encoding":{"x":{"field":"d","type":"quantitative"},"y":{"field":"n","type":"quantitative"}}},
{"data":{"values":[{"t":"threshold 1.","d":28.5,"n":709},{"t":"threshold 2.","d":58.6,"n":1361}]},"mark":{"type":"text","fontSize":16,"color":"#222"},"encoding":{"x":{"field":"d","type":"quantitative"},"y":{"field":"n","type":"quantitative"},"text":{"field":"t"}}},
{"data":{"values":[{"t":"(c)","d":63.8,"n":2230}]},"mark":{"type":"text","fontSize":22,"color":"#222"},"encoding":{"x":{"field":"d","type":"quantitative"},"y":{"field":"n","type":"quantitative"},"text":{"field":"t"}}},
{"data":{"values":[{"t":"N","d":-11.9,"n":802}]},"mark":{"type":"text","fontSize":15,"color":"#222","angle":-90,"align":"left","baseline":"middle"},"encoding":{"x":{"field":"d","type":"quantitative"},"y":{"field":"n","type":"quantitative"},"text":{"field":"t"}}},
{"data":{"values":[{"t":"max","d":-10.7,"n":906}]},"mark":{"type":"text","fontSize":11,"color":"#222","angle":-90,"align":"left","baseline":"middle"},"encoding":{"x":{"field":"d","type":"quantitative"},"y":{"field":"n","type":"quantitative"},"text":{"field":"t"}}},
{"data":{"values":[{"t":"(τ)","d":-11.9,"n":1148}]},"mark":{"type":"text","fontSize":15,"color":"#222","angle":-90,"align":"left","baseline":"middle"},"encoding":{"x":{"field":"d","type":"quantitative"},"y":{"field":"n","type":"quantitative"},"text":{"field":"t"}}}
]},
{"width":188,"height":232,"data":{"name":"pts"},"encoding":{"x":{"field":"x","type":"quantitative","scale":{"domain":[36,600],"nice":false,"zero":false},"axis":null},"y":{"field":"y","type":"quantitative","scale":{"domain":[735,39],"nice":false,"zero":false},"axis":null}},"layer":[
{"transform":[{"filter":"datum.g=='o'"}],"mark":{"type":"circle","color":"#4472C4","size":150,"opacity":1,"clip":true}},
{"mark":{"type":"circle","color":"#111","size":6,"opacity":1}}
]},
{"width":377,"height":197,"data":{"values":[]},"mark":{"type":"point"},"encoding":{}},
{"width":188,"height":197,"data":{"name":"pts"},"encoding":{"x":{"field":"x","type":"quantitative","scale":{"domain":[36,600],"nice":false,"zero":false},"axis":null},"y":{"field":"y","type":"quantitative","scale":{"domain":[630,39],"nice":false,"zero":false},"axis":null}},"layer":[
{"transform":[{"filter":"datum.g!='i'"}],"mark":{"type":"circle","color":"#4472C4","size":150,"opacity":1,"clip":true}},
{"mark":{"type":"circle","color":"#111","size":6,"opacity":1}}
]}
]}
